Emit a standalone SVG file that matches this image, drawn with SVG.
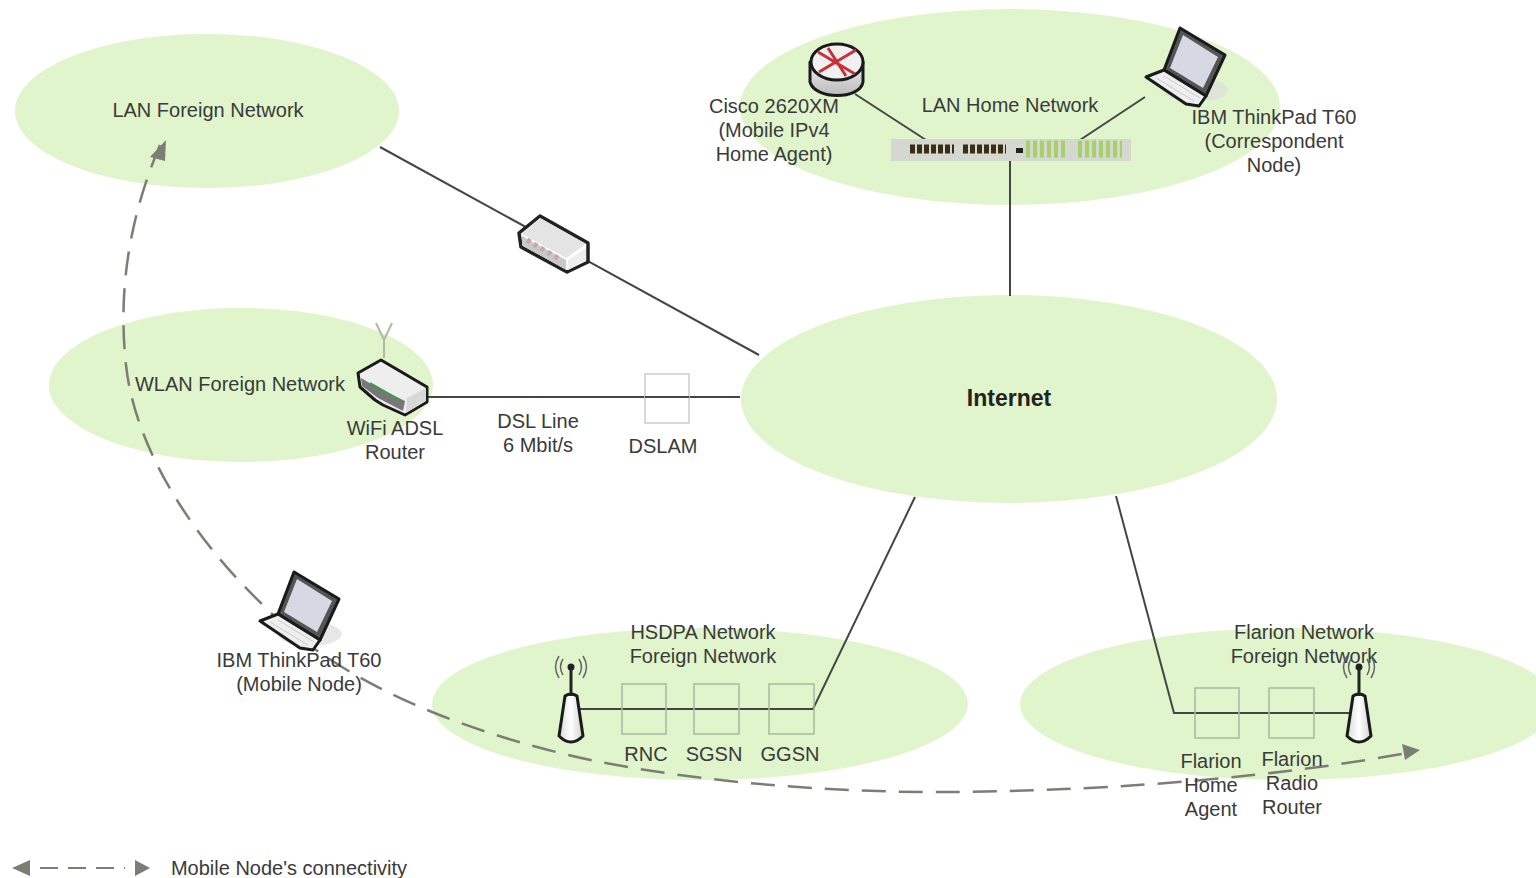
<svg xmlns="http://www.w3.org/2000/svg" width="1536" height="878" viewBox="0 0 1536 878">
<style>
.net{fill:#e0f5cc}
text{font-family:"Liberation Sans",Arial,sans-serif;font-size:20px;fill:#3a3a3a;text-anchor:middle}
.ln{stroke:#454545;stroke-width:2;fill:none}
.box{fill:none;stroke:#a9b8a0;stroke-width:1.5}
.ol{stroke:#1a1a1a;stroke-width:3;stroke-linejoin:round}
.dash{stroke:#7d7d75;stroke-width:2.5;fill:none;stroke-dasharray:24 13}
.ah{fill:#7d7d75}
</style>
<defs>
<linearGradient id="g" x1="0" y1="0" x2="1" y2="0"><stop offset="0" stop-color="#d8d8d8"/><stop offset=".5" stop-color="#fff"/><stop offset="1" stop-color="#d0d0d0"/></linearGradient>
<linearGradient id="d" x1="0" y1="0" x2="0" y2="1"><stop offset="0" stop-color="#eee"/><stop offset="1" stop-color="#bbb"/></linearGradient>
<g id="laptop">
<ellipse cx="52" cy="62" rx="32" ry="12" fill="#ddd" opacity=".7"/>
<path class="ol" fill="#555" d="M36 0L81 27L62 68L20 42Z"/>
<path fill="#d6d9e4" d="M39 7L74 29L59 60L26 40Z"/>
<path class="ol" fill="#eee" d="M20 42L62 68L55 78L42 76L2 49Z"/>
<path fill="none" stroke="#ccc" d="M20 48L56 70M12 50L50 73"/>
</g>
<g id="antenna">
<path class="ol" fill="url(#g)" d="M-6 -24Q0 -28 6 -24L12 16Q0 28 -12 16Z"/>
<path d="M0 -24V-50" stroke="#222" stroke-width="3"/><circle cx="0" cy="-53" r="3.5" fill="#222"/>
<path d="M-8 -61Q-13 -53 -8 -45M8 -61Q13 -53 8 -45M-12 -64Q-19 -53 -12 -42M12 -64Q19 -53 12 -42" fill="none" stroke="#666" stroke-width="1.5"/>
</g>
</defs>
<rect width="1536" height="878" fill="#fff"/>
<g id="lan-foreign"><ellipse class="net" cx="207" cy="111" rx="192" ry="77"/><text x="208" y="117">LAN Foreign Network</text></g>
<g id="wlan-foreign"><ellipse class="net" cx="241" cy="385" rx="192" ry="77"/><text x="240" y="391">WLAN Foreign Network</text></g>
<g id="lan-home"><ellipse class="net" cx="1010" cy="107" rx="270" ry="98"/><text x="1010" y="112">LAN Home Network</text></g>
<g id="internet"><ellipse class="net" cx="1009" cy="399" rx="268" ry="104"/><text x="1009" y="406" font-weight="bold" style="font-size:23px;fill:#222">Internet</text></g>
<g id="hsdpa"><ellipse class="net" cx="700" cy="704" rx="268" ry="76"/><text x="703" y="639">HSDPA Network</text><text x="703" y="663">Foreign Network</text></g>
<g id="flarion"><ellipse class="net" cx="1288" cy="704" rx="268" ry="76"/><text x="1304" y="639">Flarion Network</text><text x="1304" y="663">Foreign Network</text></g>
<g id="connectors">
<path class="ln" d="M380 147L759 355M428 397H740M1010 160V296M915 497L813 709H580M1116 496L1174 713H1355M855 94L926 140M1145 97L1080 140"/>
<path class="dash" d="M160 145C122 235 120 310 126 365C135 450 195 540 262 604C340 685 470 735 600 762C720 785 850 793 960 792C1130 790 1290 775 1412 752"/>
<path class="ah" d="M166 140L150 157L165 161Z"/>
<path class="ah" d="M1420 750L1402 744L1405 760Z"/>
<path class="dash" d="M40 868H125" style="stroke-dasharray:18 10;stroke-width:2"/>
<path class="ah" d="M12 868L30 860V876ZM150 868L135 860V876Z"/>
</g>
<g id="switch-lan"><path fill="#fff" stroke="#222" stroke-width="3.5" d="M519 233L540 216L588 243V262L567 272L521 247Z" stroke-linejoin="round"/><path fill="#e4e4e4" d="M522 234L540 218L586 244L566 258Z"/><path fill="#c9c9c9" d="M522 236L566 260V270L522 245Z"/><path d="M527 240L561 260" stroke="#c9a8ad" stroke-width="5" stroke-dasharray="4 4"/><path d="M568 260L586 248V261L568 270Z" fill="#eee"/></g>
<g id="wifi-router"><path d="M384 358V340M384 340L376 323M384 340L392 323" stroke="#b0b8a8" stroke-width="2" fill="none"/><path class="ol" fill="#eee" d="M381 360L427 387L427 402L405 415L383 405L375 400L360 387L358 373Z"/><path fill="#777" d="M361 378L378 388L405 401L403 411L378 398L362 386Z"/><path d="M370 383L400 400" stroke="#3a9a4a" stroke-width="2"/><path d="M407 398L426 388V401L406 413Z" fill="#d8d8d8"/></g>
<g id="dslam"><rect x="645" y="374" width="44" height="49" fill="#fff" stroke="#ccc" stroke-width="1.5"/><path class="ln" d="M645 397H689"/><text x="663" y="453">DSLAM</text></g>
<text x="395" y="435">WiFi ADSL</text><text x="395" y="459">Router</text>
<text x="538" y="428">DSL Line</text><text x="538" y="452">6 Mbit/s</text>
<g id="router"><path class="ol" fill="url(#d)" d="M810 62V82C815 100 860 100 863 82V62Z"/><ellipse cx="837" cy="62" rx="26" ry="18" fill="#f0f0f0" stroke="#1a1a1a" stroke-width="3"/><path d="M818 52L855 74M856 50L819 72M828 48L846 76" stroke="#c8303a" stroke-width="3" fill="none"/></g>
<text x="774" y="113">Cisco 2620XM</text><text x="774" y="137">(Mobile IPv4</text><text x="774" y="161">Home Agent)</text>
<g id="lan-switch"><rect x="891" y="139" width="240" height="22" fill="#d5d8d0"/><path d="M910 149H954M963 149H1006" stroke="#3b2c14" stroke-width="9" stroke-dasharray="5 2"/><rect x="1016" y="148" width="7" height="5" fill="#222"/><path d="M1026 149H1066M1078 149H1122" stroke="#a6d06a" stroke-width="17" stroke-dasharray="4 3"/></g>
<use id="laptop-ibm" href="#laptop" x="1144" y="28"/>
<text x="1274" y="124">IBM ThinkPad T60</text><text x="1274" y="148">(Correspondent</text><text x="1274" y="172">Node)</text>
<use id="laptop-mobile" href="#laptop" x="258" y="572"/>
<text x="299" y="667">IBM ThinkPad T60</text><text x="299" y="691">(Mobile Node)</text>
<use id="ant-hsdpa" href="#antenna" x="571" y="720"/>
<g id="rnc"><rect class="box" x="622" y="684" width="44" height="50"/><text x="646" y="761">RNC</text></g>
<g id="sgsn"><rect class="box" x="694" y="684" width="45" height="50"/><text x="714" y="761">SGSN</text></g>
<g id="ggsn"><rect class="box" x="769" y="684" width="45" height="50"/><text x="790" y="761">GGSN</text></g>
<use id="ant-flarion" href="#antenna" x="1359" y="720"/>
<g id="fha"><rect class="box" x="1195" y="688" width="44" height="50"/><text x="1211" y="768">Flarion</text><text x="1211" y="792">Home</text><text x="1211" y="816">Agent</text></g>
<g id="frr"><rect class="box" x="1269" y="688" width="45" height="50"/><text x="1292" y="766">Flarion</text><text x="1292" y="790">Radio</text><text x="1292" y="814">Router</text></g>
<text x="289" y="875">Mobile Node's connectivity</text>
</svg>
